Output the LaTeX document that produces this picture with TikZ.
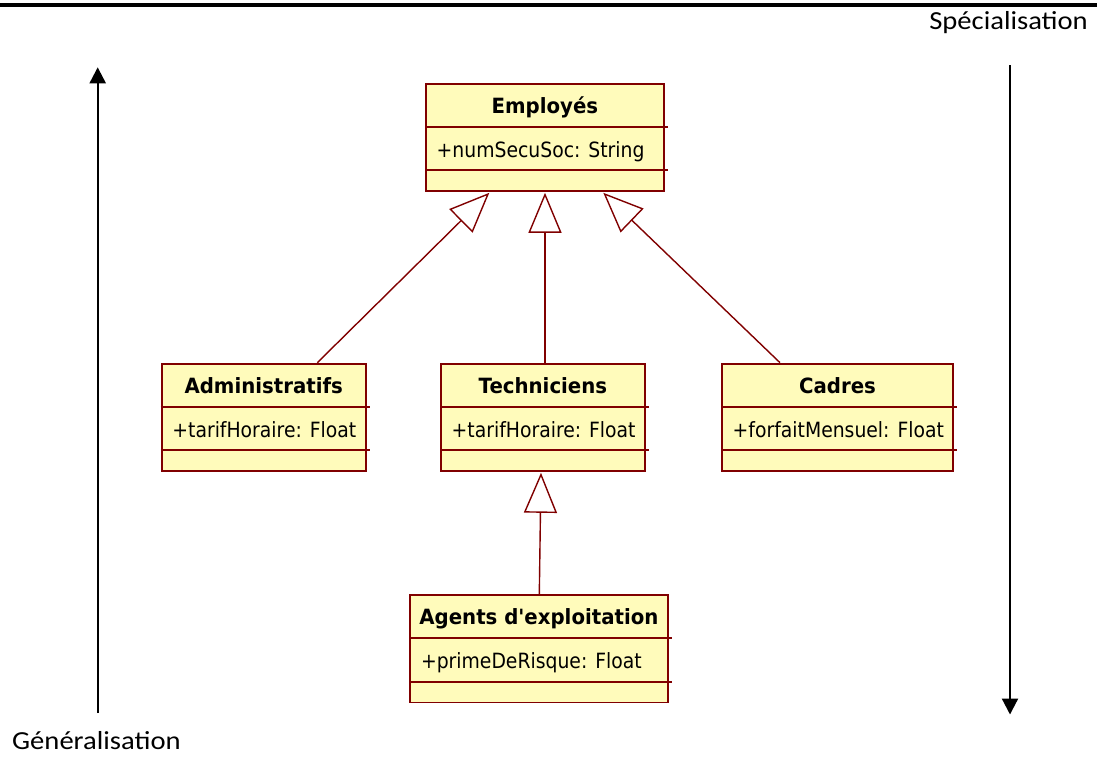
\documentclass[tikz,border=0pt]{standalone}
\usepackage{fontspec}
\newfontfamily\umlfont[FakeStretch=0.895]{DejaVu Sans}
\newfontfamily\umlboldfont[FakeStretch=0.94]{DejaVu Sans}
\newfontfamily\notefont[FakeStretch=1.1]{Carlito}
\usetikzlibrary{arrows.meta,calc}
\definecolor{umlborder}{RGB}{128,0,0}
\definecolor{umlfill}{RGB}{255,251,187}

\tikzset{
  classbox/.style={draw=umlborder, fill=umlfill, line width=1.8pt, inner sep=0pt,
    minimum height=107.3pt, anchor=north west},
  compline/.style={draw=umlborder, line width=1.8pt},
  titletext/.style={inner sep=0pt, anchor=base, font=\umlboldfont\bfseries\fontsize{21}{25}\selectfont},
  attrtext/.style={inner sep=0pt, anchor=base west, font=\umlfont\fontsize{21}{25}\selectfont},
  inherits/.style={draw=umlborder, line width=1.4pt,
    -{Triangle[open, fill=white, length=40pt, width=33pt]}},
  axisarrow/.style={draw=black, line width=2.2pt, -{Triangle[length=16pt, width=16pt]}},
  axislabel/.style={inner sep=0pt, font=\notefont\fontsize{26}{30}\selectfont},
}

% UML class: name, left x, top y, width, class name, attribute
\newcommand\umlclass[6]{%
  \node[classbox, minimum width=#4pt] (#1) at (#2,#3) {};
  \draw[compline] ($(#1.north west)+(0,44)$) -- ($(#1.north east)+(3,44)$);
  \draw[compline] ($(#1.north west)+(0,87.3)$) -- ($(#1.north east)+(3,87.3)$);
  \node[titletext] (#1-title) at ($(#1.north)+(0,30.3)$) {#5};
  \node[attrtext] (#1-attr) at ($(#1.north west)+(11.5,74.3)$) {#6};
}

\begin{document}
\begin{tikzpicture}[x=1pt, y=-1pt]
  \useasboundingbox (0,0) rectangle (1097,756);

  % heading rule
  \fill[black] (0,3) rectangle (1097,7);

  % classes
  \umlclass{emp}{425}{82.7}{238}{Employés}{+numSecuSoc: String}
  \umlclass{adm}{160.7}{362.7}{204.3}{Administratifs}{+tarifHoraire: Float}
  \umlclass{tec}{440}{362.7}{204}{Techniciens}{+tarifHoraire: Float}
  \umlclass{cad}{721}{362.7}{231.3}{Cadres}{+forfaitMensuel: Float}
  \umlclass{agt}{409.3}{594.3}{257.4}{Agents d'exploitation}{+primeDeRisque: Float}

  % generalisation links
  \draw[inherits] ($(adm.north west)+(156.6,0)$) -- ($(emp.south west)+(64.3,1)$);
  \draw[inherits] ($(tec.north west)+(105,0)$) -- ($(emp.south west)+(120,1)$);
  \draw[inherits] ($(cad.north west)+(59,0)$) -- ($(emp.south west)+(178.3,1)$);
  \draw[inherits] ($(agt.north west)+(130,0)$) -- ($(tec.south west)+(101,1)$);

  % axes
  \coordinate (gen-from) at (97.7,713);
  \coordinate (gen-to) at (97.7,67.3);
  \draw[axisarrow] (gen-from) -- (gen-to);
  \coordinate (spe-from) at (1010,65);
  \coordinate (spe-to) at (1010,714.5);
  \draw[axisarrow] (spe-from) -- (spe-to);

  \node[axislabel, anchor=base west] (gen-label) at (12,749) {Généralisation};
  \node[axislabel, anchor=base east] (spe-label) at (1088,29) {Spécialisation};
\end{tikzpicture}
\end{document}
